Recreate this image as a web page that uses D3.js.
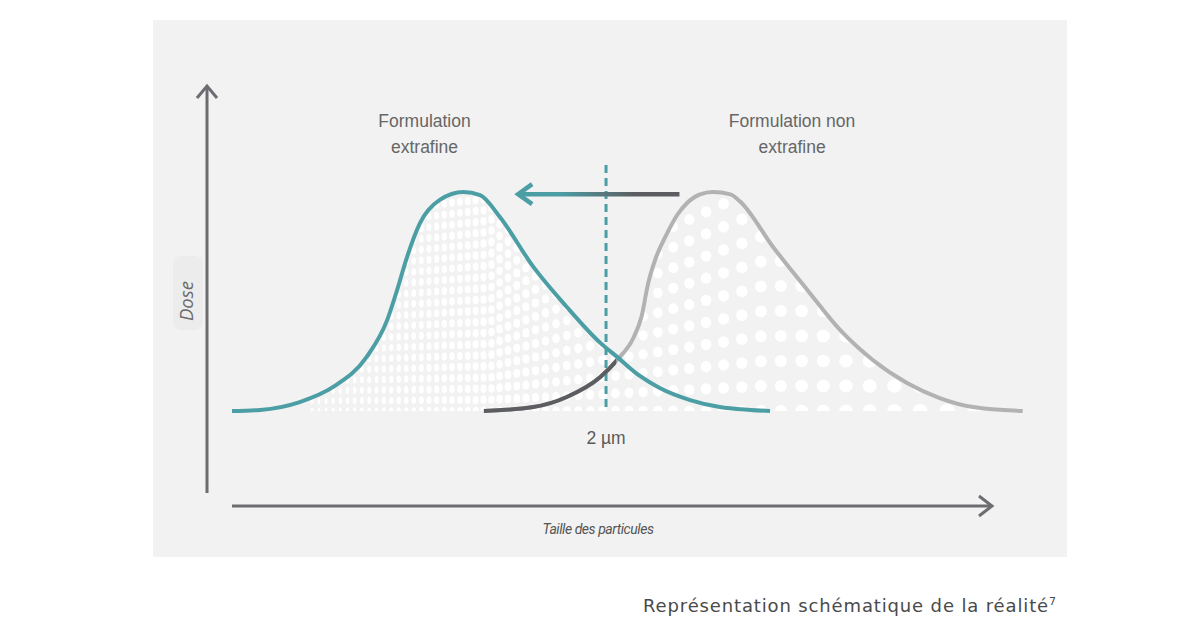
<!DOCTYPE html>
<html>
<head>
<meta charset="utf-8">
<script src="https://cdn.jsdelivr.net/npm/d3@7"></script>
<style>
  html, body { margin: 0; padding: 0; background: #ffffff; }
  svg { display: block; }
</style>
</head>
<body>
<svg id="chart" width="1200" height="627"></svg>
<script>
// ---- Data (arbitrary units: particle size 0..100, dose 0..100) ----
const extrafineSize = [0, 3.7, 8.9, 13.3, 17.7, 20.4, 21.7, 23.0, 24.7, 27.3, 30.4, 32.6, 35.2, 39.6, 44.0, 48.4, 50.6, 53.6, 56.2, 60.2, 64.1, 68.1, 70.7];
const extrafineDose = [0, 0.5, 4.1, 11.0, 24.7, 41.6, 55.3, 70.3, 85.8, 96.4, 100, 98.6, 88.6, 65.8, 47.5, 31.1, 24.7, 16.0, 10.5, 5.0, 1.8, 0.5, 0];

const nonExtrafineSize = [33.1, 39.6, 44.0, 48.4, 50.6, 52.8, 53.8, 54.7, 55.6, 57.2, 58.5, 59.8, 61.5, 63.2, 65.5, 66.8, 71.1, 75.6, 79.9, 84.2, 88.7, 93.0, 97.4, 103.9];
const nonExtrafineDose = [0, 1.8, 6.4, 15.5, 23.3, 33.8, 42.9, 58.5, 69.0, 81.3, 89.5, 95.0, 98.9, 100, 98.9, 95.5, 74.9, 55.3, 37.0, 23.3, 12.8, 5.9, 1.8, 0];

const thresholdSize = [49.15];           // 2 µm
const thresholdLabel = ["2 µm"];
const seriesLabels = [["Formulation", "extrafine"], ["Formulation non", "extrafine"]];
const seriesLabelSize = [25.3, 73.6];
const crossingSize = 50.5;               // where the non-extrafine curve turns light
const arrowFrom = [58.8, 99];
const arrowTo = [37.6, 99];
const xAxisTitle = "Taille des particules";
const yAxisTitle = "Dose";
const caption = "Représentation schématique de la réalité";
const captionNote = "7";

// ---- Layout ----
const svg = d3.select("#chart");
const x = d3.scaleLinear().domain([0, 100]).range([232, 993]);
const y = d3.scaleLinear().domain([0, 100]).range([411, 192]);

const teal = "#4c9ea5", lightGray = "#b2b2b2", darkGray = "#5c5d61", axisCol = "#6c6c71", textCol = "#666666";

svg.append("rect").attr("x", 0).attr("y", 0).attr("width", 1200).attr("height", 627).attr("fill", "#ffffff");
svg.append("rect").attr("x", 153).attr("y", 20).attr("width", 914).attr("height", 537).attr("fill", "#f2f2f2");

const defs = svg.append("defs");
const tealPts = extrafineSize.map((s, i) => [s, extrafineDose[i]]);
const grayPts = nonExtrafineSize.map((s, i) => [s, nonExtrafineDose[i]]);

const line = d3.line().x(d => x(d[0])).y(d => y(d[1])).curve(d3.curveMonotoneX);
const area = d3.area().x(d => x(d[0])).y0(y(0)).y1(d => y(d[1])).curve(d3.curveMonotoneX);

// clip for dot texture: union of both areas
const clip = defs.append("clipPath").attr("id", "underCurves");
clip.append("path").attr("d", area(tealPts));
clip.append("path").attr("d", area(grayPts));

// decorative halftone texture (grows with particle size)
const dots = [];
const base = y(0);
let cx = 312;
while (cx < 1000) {
  const cs = cx < 490 ? 7 + (cx - 310) / 180 : 8 + 0.044 * (cx - 490);
  const rs = Math.max(9, Math.min(25, cs * 1.15 + 2));
  const rx = 1.3 + 0.0102 * (cx - 312);
  const ry = 3.2 + 0.0062 * (cx - 312);
  for (let k = 0; base - k * rs > 180; k++) {
    dots.push({ cx: cx, cy: base - k * rs, rx: rx, ry: ry });
  }
  cx += cs;
}
svg.append("g").attr("clip-path", "url(#underCurves)")
  .selectAll("ellipse").data(dots).join("ellipse")
  .attr("cx", d => d.cx).attr("cy", d => d.cy)
  .attr("rx", d => d.rx).attr("ry", d => d.ry)
  .attr("fill", "#ffffff");

// axes (arrows)
const axes = svg.append("g").attr("stroke", axisCol).attr("stroke-width", 3).attr("fill", "none")
  .attr("stroke-linecap", "butt");
axes.append("line").attr("x1", 207).attr("y1", 493).attr("x2", 207).attr("y2", 86);
axes.append("path").attr("d", "M197,98 L207,86 L217,98").attr("stroke-linejoin", "miter");
axes.append("line").attr("x1", 232).attr("y1", 506).attr("x2", 992).attr("y2", 506);
axes.append("path").attr("d", "M979,496 L992,506 L979,516").attr("stroke-linejoin", "miter");

// dashed threshold
svg.append("line")
  .attr("x1", x(thresholdSize[0])).attr("x2", x(thresholdSize[0]))
  .attr("y1", 165).attr("y2", y(0))
  .attr("stroke", teal).attr("stroke-width", 3).attr("stroke-dasharray", "8,5");

// non-extrafine curve: light full, dark part until crossing
svg.append("path").attr("d", line(grayPts)).attr("fill", "none")
  .attr("stroke", lightGray).attr("stroke-width", 4);
const darkClip = defs.append("clipPath").attr("id", "darkPart");
darkClip.append("rect").attr("x", 0).attr("y", 0).attr("width", x(crossingSize)).attr("height", 627);
svg.append("path").attr("d", line(grayPts)).attr("fill", "none")
  .attr("stroke", darkGray).attr("stroke-width", 4).attr("clip-path", "url(#darkPart)");

// extrafine curve
svg.append("path").attr("d", line(tealPts)).attr("fill", "none")
  .attr("stroke", teal).attr("stroke-width", 4);

// shift arrow with gradient
const grad = defs.append("linearGradient").attr("id", "arrowGrad")
  .attr("gradientUnits", "userSpaceOnUse")
  .attr("x1", x(arrowTo[0])).attr("x2", x(arrowFrom[0])).attr("y1", 0).attr("y2", 0);
grad.append("stop").attr("offset", "0.25").attr("stop-color", teal);
grad.append("stop").attr("offset", "0.72").attr("stop-color", darkGray);
const ay = y(arrowFrom[1]);
svg.append("line").attr("x1", x(arrowFrom[0])).attr("x2", x(arrowTo[0]) + 2)
  .attr("y1", ay).attr("y2", ay).attr("stroke", "url(#arrowGrad)").attr("stroke-width", 4.5);
svg.append("path")
  .attr("d", `M${x(arrowTo[0]) + 14},${ay - 10} L${x(arrowTo[0])},${ay} L${x(arrowTo[0]) + 14},${ay + 10}`)
  .attr("fill", "none").attr("stroke", teal).attr("stroke-width", 4.5).attr("stroke-linejoin", "miter");

// series labels
seriesLabels.forEach((lines, i) => {
  const t = svg.append("text").attr("text-anchor", "middle")
    .attr("font-family", "'Liberation Sans', Arial, sans-serif")
    .attr("font-size", 17.5).attr("fill", textCol);
  lines.forEach((l, j) => {
    t.append("tspan").attr("x", x(seriesLabelSize[i])).attr("y", 127 + j * 26).text(l);
  });
});

// threshold label
svg.append("text").attr("x", x(thresholdSize[0])).attr("y", 444).attr("text-anchor", "middle")
  .attr("font-family", "'Liberation Sans', Arial, sans-serif").attr("font-size", 17.5)
  .attr("fill", "#5a5a5a").text(thresholdLabel[0]);

// axis titles
svg.append("rect").attr("x", 173).attr("y", 256).attr("width", 30).attr("height", 74).attr("rx", 8)
  .attr("fill", "#ececec");
svg.append("text").attr("transform", "translate(193,301) rotate(-90)").attr("text-anchor", "middle")
  .attr("font-family", "'Open Sans', sans-serif").attr("font-style", "italic").attr("font-size", 18.5)
  .attr("fill", "#6a6a6a").text(yAxisTitle);
svg.append("text").attr("x", 598).attr("y", 534).attr("text-anchor", "middle")
  .attr("font-family", "'Liberation Sans Narrow', 'Roboto', sans-serif").attr("font-style", "italic")
  .attr("font-size", 14).attr("letter-spacing", -0.45).attr("fill", "#555").text(xAxisTitle);

// caption
const cap = svg.append("text").attr("x", 643).attr("y", 612)
  .attr("font-family", "'DejaVu Sans', sans-serif").attr("font-size", 18).attr("fill", "#4a4a4a");
const capMain = cap.append("tspan").text(caption);
cap.append("tspan").attr("dy", -7).attr("font-size", 11).text(captionNote);
const w = capMain.node().getComputedTextLength();
const target = 406;
const ls = (target - w) / caption.length;
capMain.attr("letter-spacing", ls);
</script>
</body>
</html>
